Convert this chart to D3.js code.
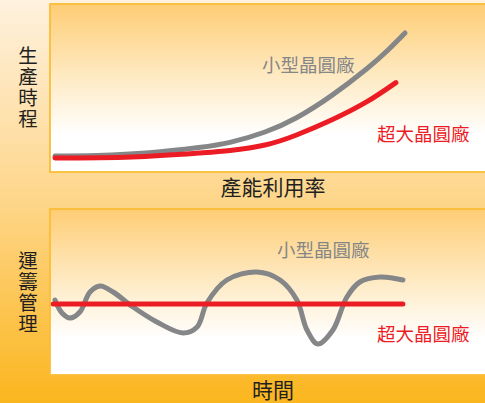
<!DOCTYPE html>
<html>
<head>
<meta charset="utf-8">
<script src="https://cdn.jsdelivr.net/npm/d3@7"></script>
<style>
  html, body { margin: 0; padding: 0; overflow: hidden; }
  text { font-family: "Noto Sans CJK TC", "Noto Sans", sans-serif; }
</style>
</head>
<body>
<div class="container"></div>
<script>
const width = 485;
const height = 403;

// top panel: production cycle time vs. capacity utilization
const utilSmall = [0, 12, 27, 41, 50, 60, 69, 79, 89, 95, 100];
const timeSmall = [1.5, 2, 4, 8, 12, 20, 31, 48, 68.5, 82.7, 96.2];
const utilLarge = [0, 22, 41, 50, 60, 69, 79, 89, 97.4];
const timeLarge = [0, 0.8, 3.8, 5.8, 10, 17.7, 29.2, 43.1, 58];

// bottom panel: logistics management over time
const tSmall = [0, 2, 4.3, 7.1, 10, 12.9, 16.6, 22.3, 29.1, 36.6, 40.6, 43.4, 49.1, 57.7, 64.3, 69.1, 72, 75.1, 79.4, 83.4, 87.1, 92.9, 99.4];
const vSmall = [4, -9, -14, -8, 12, 18, 12, -3, -18, -29, -23, 1, 24, 32, 24, 4, -26, -40, -26, 7, 22, 27, 24];
const tLarge = [-0.5, 99.4];
const vLarge = [0, 0];

const seriesNames = ['小型晶圓廠', '超大晶圓廠'];
const panelTitles = [['生', '產', '時', '程'], ['運', '籌', '管', '理']];
const xTitles = ['產能利用率', '時間'];

const gray = '#858688';
const red = '#ec1c24';

const svg = d3.select('.container')
  .append('svg')
  .attr('width', width)
  .attr('height', height);

const defs = svg.append('defs');
const bg = defs.append('linearGradient').attr('id', 'bg')
  .attr('x1', 0).attr('y1', 0).attr('x2', 0).attr('y2', 1);
bg.append('stop').attr('offset', '0%').attr('stop-color', '#fef1de');
bg.append('stop').attr('offset', '50%').attr('stop-color', '#fed68a');
bg.append('stop').attr('offset', '100%').attr('stop-color', '#fbb61e');

const pg = defs.append('linearGradient').attr('id', 'pg')
  .attr('x1', 0).attr('y1', 0).attr('x2', 0).attr('y2', 1);
pg.append('stop').attr('offset', '0%').attr('stop-color', '#fecd75');
pg.append('stop').attr('offset', '45%').attr('stop-color', '#feebc6');
pg.append('stop').attr('offset', '78%').attr('stop-color', '#ffffff');
pg.append('stop').attr('offset', '100%').attr('stop-color', '#ffffff');

svg.append('rect')
  .attr('width', width)
  .attr('height', height)
  .attr('fill', 'url(#bg)');

// panels
const panels = [{ top: 4, bottom: 172 }, { top: 209, bottom: 375 }];
panels.forEach(p => {
  svg.append('rect')
    .attr('x', 50)
    .attr('y', p.top)
    .attr('width', 460)
    .attr('height', p.bottom - p.top)
    .attr('fill', 'url(#pg)')
    .attr('stroke', '#fbbd35')
    .attr('stroke-width', 1.8);
});

const xScale = d3.scaleLinear().domain([0, 100]).range([55, 405]);
const y1 = d3.scaleLinear().domain([0, 100]).range([158, 28]);
const y2 = d3.scaleLinear().domain([-50, 50]).range([354, 254]);

function drawLine(xs, ys, yScale, color, curve) {
  const pts = xs.map((x, i) => [xScale(x), yScale(ys[i])]);
  svg.append('path')
    .attr('d', d3.line().curve(curve)(pts))
    .attr('fill', 'none')
    .attr('stroke', color)
    .attr('stroke-width', 5)
    .attr('stroke-linecap', 'round');
}

drawLine(utilSmall, timeSmall, y1, gray, d3.curveNatural);
drawLine(utilLarge, timeLarge, y1, red, d3.curveNatural);
drawLine(tSmall, vSmall, y2, gray, d3.curveCatmullRom.alpha(0.5));
drawLine(tLarge, vLarge, y2, red, d3.curveLinear);

// series labels
function label(x, y, txt, color) {
  svg.append('text')
    .attr('x', x)
    .attr('y', y)
    .attr('fill', color)
    .attr('font-size', 18.5)
    .text(txt);
}
label(262, 72, seriesNames[0], gray);
label(377, 141, seriesNames[1], red);
label(277, 257, seriesNames[0], gray);
label(377, 341, seriesNames[1], red);

// axis titles
svg.append('text')
  .attr('x', 273)
  .attr('y', 195)
  .attr('text-anchor', 'middle')
  .attr('font-size', 21)
  .attr('fill', '#231f20')
  .text(xTitles[0]);
svg.append('text')
  .attr('x', 273)
  .attr('y', 398)
  .attr('text-anchor', 'middle')
  .attr('font-size', 21)
  .attr('fill', '#231f20')
  .text(xTitles[1]);

const titleTops = [63, 268];
panelTitles.forEach((chars, k) => {
  svg.append('g')
    .selectAll('text')
    .data(chars)
    .enter()
    .append('text')
    .attr('x', 28)
    .attr('y', (d, i) => titleTops[k] + i * 21)
    .attr('text-anchor', 'middle')
    .attr('font-size', 19.5)
    .attr('fill', '#231f20')
    .text(d => d);
});
</script>
</body>
</html>
